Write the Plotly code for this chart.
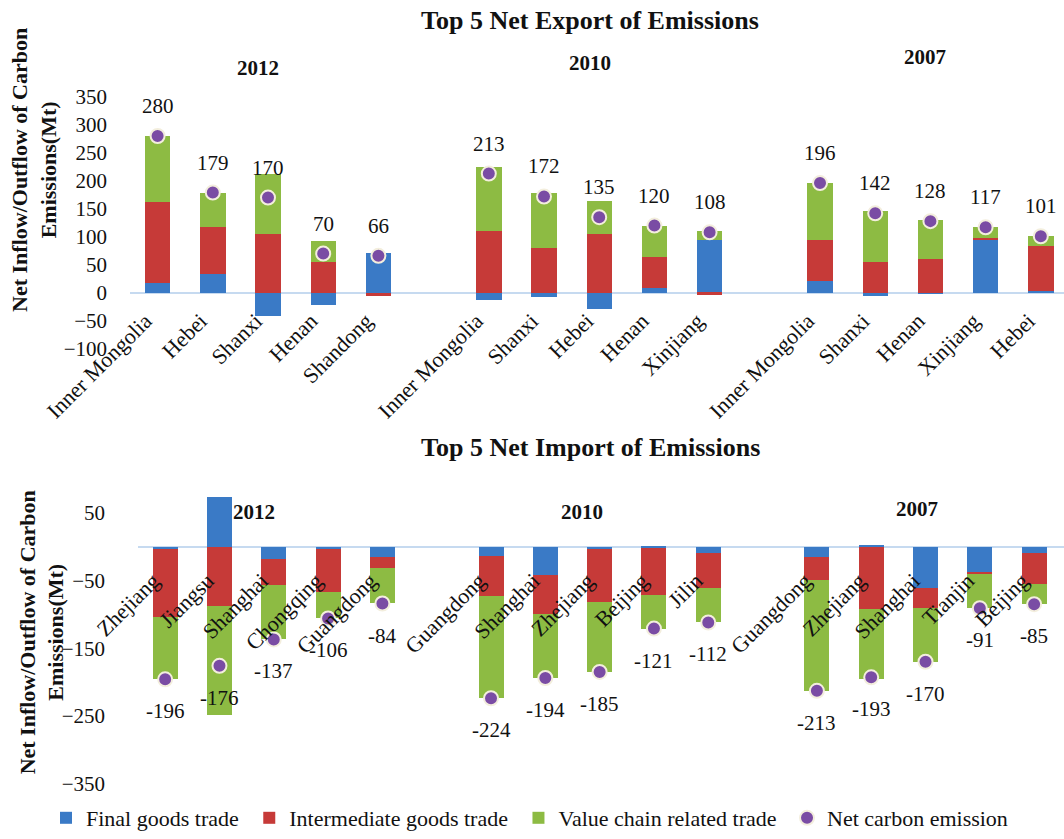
import plotly.graph_objects as go

# ---------------- data ----------------
years = ["2012", "2010", "2007"]

export_regions = [
    ["Inner Mongolia", "Hebei", "Shanxi", "Henan", "Shandong"],
    ["Inner Mongolia", "Shanxi", "Hebei", "Henan", "Xinjiang"],
    ["Inner Mongolia", "Shanxi", "Henan", "Xinjiang", "Hebei"],
]
export_final = [[17, 33, -42, -22, 72], [-12, -7, -29, 9, 95], [21, -5, -2, 96, 4]]
export_inter = [[145, 85, 105, 55, -6], [110, 80, 105, 56, -3], [74, 55, 61, 3, 80]]
export_value = [[118, 61, 107, 37, 0], [115, 99, 59, 55, 16], [101, 92, 69, 18, 17]]
export_net = [[280, 179, 170, 70, 66], [213, 172, 135, 120, 108], [196, 142, 128, 117, 101]]

import_regions = [
    ["Zhejiang", "Jiangsu", "Shanghai", "Chongqing", "Guangdong"],
    ["Guangdong", "Shanghai", "Zhejiang", "Beijing", "Jilin"],
    ["Guangdong", "Zhejiang", "Shanghai", "Tianjin", "Beijing"],
]
import_final = [[-3, 73, -18, -4, -16], [-14, -42, -4, -2, -9], [-16, 2, -61, -37, -10]]
import_inter = [[-101, -88, -38, -63, -16], [-59, -57, -78, -70, -52], [-33, -92, -29, -3, -45]]
import_value = [[-92, -161, -81, -39, -52], [-151, -95, -103, -49, -51], [-164, -103, -80, -51, -30]]
import_net = [[-196, -176, -137, -106, -84], [-224, -194, -185, -121, -112], [-213, -193, -170, -91, -85]]

series_names = ["Final goods trade", "Intermediate goods trade", "Value chain related trade"]
net_name = "Net carbon emission"

# ---------------- styling ----------------
W, H = 1064, 839
FONT = "Liberation Serif, Times New Roman, serif"
colors = ["#3A7AC6", "#C63A38", "#8DBB43"]
purple = "#7A4CA4"
PAD = "\u00a0"   # a little extra room after each legend entry


def px_x(p):
    return p / W


def px_y(p):
    return 1 - p / H


def flat(nested):
    return [v for grp in nested for v in grp]


def slots(nested):
    return [g * 6 + i for g, grp in enumerate(nested) for i in range(len(grp))]


fig = go.Figure()

panels = [
    dict(xa="x", ya="y", regions=export_regions,
         series=[export_final, export_inter, export_value], net=export_net, shift=30),
    dict(xa="x2", ya="y2", regions=import_regions,
         series=[import_final, import_inter, import_value], net=import_net, shift=-32),
]

for pi, p in enumerate(panels):
    xs = slots(p["regions"])
    for si, s in enumerate(p["series"]):
        fig.add_trace(go.Bar(
            x=xs, y=flat(s), name=series_names[si] + PAD, xaxis=p["xa"], yaxis=p["ya"],
            marker=dict(color=colors[si], line=dict(width=0)),
            width=0.46, showlegend=(pi == 0), legendgroup=series_names[si],
        ))
    fig.add_trace(go.Scatter(
        x=xs, y=flat(p["net"]), name=net_name, mode="markers", xaxis=p["xa"], yaxis=p["ya"],
        marker=dict(color=purple, size=14, line=dict(color="#F3EEDD", width=2)),
        showlegend=(pi == 0), legendgroup=net_name, cliponaxis=False,
    ))
    for xv, yv in zip(xs, flat(p["net"])):
        fig.add_annotation(x=xv, y=yv, xref=p["xa"], yref=p["ya"], text=str(yv),
                           showarrow=False, yshift=p["shift"], xanchor="center", yanchor="middle",
                           font=dict(family=FONT, size=21, color="#111"))

# axes geometry
top_y_range = [-100, 350]
bot_y_range = [-350, 80.7]
top_dom = [px_y(353), px_y(98)]
bot_dom = [px_y(793), px_y(498)]


def zero_pos(dom, rng):
    return dom[0] + (dom[1] - dom[0]) * (0 - rng[0]) / (rng[1] - rng[0])


tick_font = dict(family=FONT, size=21, color="#111")
cat_font = dict(family=FONT, size=22, color="#111")
LABEL_SHIFT = 0.22   # rotated labels end just left of their bar, as in the original

fig.update_layout(
    template="none",
    width=W, height=H,
    margin=dict(l=0, r=0, t=0, b=0),
    paper_bgcolor="white", plot_bgcolor="white",
    barmode="relative",
    bargap=0,
    font=dict(family=FONT, color="#111"),
    xaxis=dict(domain=[px_x(130), 1], range=[-0.5, 16.42], anchor="free",
               position=zero_pos(top_dom, top_y_range),
               tickvals=[v - LABEL_SHIFT for v in slots(export_regions)],
               ticktext=flat(export_regions),
               tickangle=-45, tickfont=cat_font, showgrid=False, showline=False,
               zeroline=False, ticks="", ticklabelstandoff=10, automargin=False),
    yaxis=dict(domain=top_dom, range=top_y_range, tickvals=list(range(-100, 351, 50)),
               tickfont=tick_font, showgrid=False, showline=False, zeroline=True,
               zerolinecolor="#C6DAF0", zerolinewidth=1.5, ticks="",
               ticklabelstandoff=22, automargin=False),
    xaxis2=dict(domain=[px_x(138), 1], range=[-0.5, 16.55], anchor="free",
                position=zero_pos(bot_dom, bot_y_range),
                tickvals=[v - LABEL_SHIFT for v in slots(import_regions)],
                ticktext=flat(import_regions),
                tickangle=-45, tickfont=cat_font, showgrid=False, showline=False,
                zeroline=False, ticks="", ticklabelstandoff=16, automargin=False),
    yaxis2=dict(domain=bot_dom, range=bot_y_range, tickvals=list(range(-350, 51, 100)),
                tickfont=tick_font, showgrid=False, showline=False, zeroline=True,
                zerolinecolor="#C6DAF0", zerolinewidth=1.5, ticks="",
                ticklabelstandoff=24, automargin=False),
    legend=dict(orientation="h", x=px_x(46), xanchor="left", y=px_y(828), yanchor="middle",
                font=dict(family=FONT, size=22, color="#111"), bgcolor="rgba(0,0,0,0)",
                traceorder="normal", itemwidth=30),
)

# titles
titles = [("Top 5 Net Export of Emissions", 590, 21), ("Top 5 Net Import of Emissions", 590, 453)]
for t, xx, yy in titles:
    fig.add_annotation(x=px_x(xx), y=px_y(yy), xref="paper", yref="paper", text="<b>%s</b>" % t,
                       showarrow=False, xanchor="center", yanchor="middle",
                       font=dict(family=FONT, size=26, color="#111"))

year_pos_top = [(258, 69), (590, 64), (925, 58)]
year_pos_bot = [(254, 518), (582, 518), (917, 515)]
for yr, (xx, yy) in list(zip(years, year_pos_top)) + list(zip(years, year_pos_bot)):
    fig.add_annotation(x=px_x(xx), y=px_y(yy), xref="paper", yref="paper", text="<b>%s</b>" % yr,
                       showarrow=False, xanchor="center", yanchor="middle",
                       font=dict(family=FONT, size=21, color="#111"))

ytitle = "<b>Net Inflow/Outflow of Carbon<br>Emissions(Mt)</b>"
for xx, yy in [(34, 172), (42, 640)]:
    fig.add_annotation(x=px_x(xx), y=px_y(yy), xref="paper", yref="paper", text=ytitle,
                       textangle=-90, showarrow=False, xanchor="center", yanchor="middle",
                       font=dict(family=FONT, size=22, color="#111"))

# make the page exactly the size of the figure (no default body margin, no overflow)
page_css = (
    "var s=document.createElement('style');"
    "s.textContent='html,body{margin:0;padding:0;overflow:hidden;width:%dpx;height:%dpx;}"
    "body>div{line-height:0;font-size:0;height:%dpx;overflow:hidden;}';"
    "document.head.appendChild(s);" % (W, H, H)
)
fig.write_html("out.html", config={"displayModeBar": False}, post_script=page_css)
